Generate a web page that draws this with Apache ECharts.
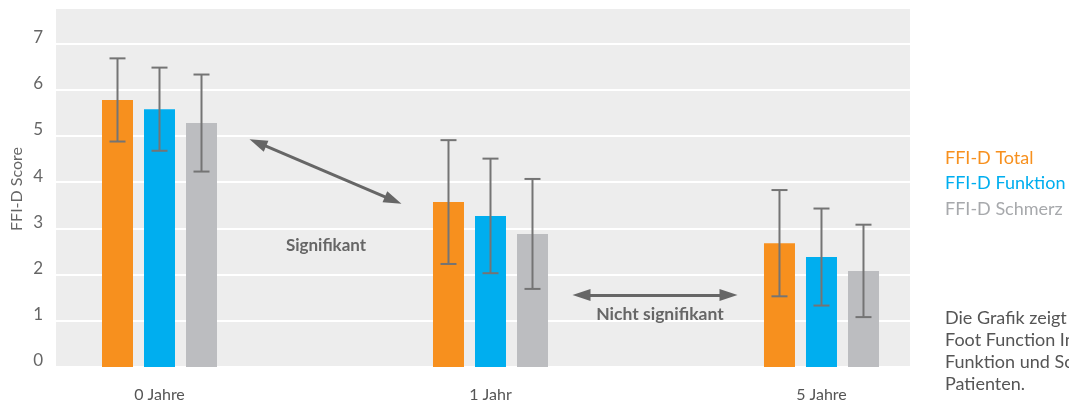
<!DOCTYPE html>
<html>
<head>
<meta charset="utf-8">
<script src="https://cdn.jsdelivr.net/npm/echarts@6/dist/echarts.min.js"></script>
<style>
  html, body { margin: 0; padding: 0; background: #ffffff; }
  #chart { width: 1069px; height: 403px; }
</style>
</head>
<body>
<div id="chart"></div>
<script>
// Follow-up time points (x positions 0, 1, 2 on the value axis)
const categories = ['0 Jahre', '1 Jahr', '5 Jahre'];
const seriesNames = ['FFI-D Total', 'FFI-D Funktion', 'FFI-D Schmerz'];

// Mean scores per time point
const totalMean = [5.78, 3.57, 2.68];
const funktionMean = [5.58, 3.27, 2.38];
const schmerzMean = [5.28, 2.88, 2.08];

// Standard deviations (error bars)
const totalSd = [0.9, 1.34, 1.15];
const funktionSd = [0.9, 1.24, 1.05];
const schmerzSd = [1.05, 1.19, 1.0];

const yTicks = [0, 1, 2, 3, 4, 5, 6, 7];

// Annotation arrows and their captions (axis units)
const sigArrow = [[0.297, 4.855], [0.706, 3.608]];
const nsArrow = [[1.275, 1.558], [1.719, 1.558]];
const sigLabel = { text: 'Signifikant', at: [0.503, 2.64] };
const nsLabel = { text: 'Nicht signifikant', at: [1.512, 1.13] };

const descriptionLines = [
  'Die Grafik zeigt den Verlauf des',
  'Foot Function Index (FFI-D) Total,',
  'Funktion und Schmerz der',
  'Patienten.'
];

const COLORS = ['#F7901E', '#00AEEF', '#BCBDC0'];
const LEGEND_TEXT = ['#F7901E', '#00AEEF', '#A7A9AC'];
const FONT = 'Lato';
const BAR_W = 31;
const BAR_GAP = 11;

const means = [totalMean, funktionMean, schmerzMean];
const sds = [totalSd, funktionSd, schmerzSd];

function errorBarRenderer(offset) {
  return function (params, api) {
    const x = api.value(0);
    const hi = api.coord([x, api.value(2)]);
    const lo = api.coord([x, api.value(1)]);
    const cx = hi[0] + offset;
    const half = 8;
    const style = { stroke: '#747474', lineWidth: 2 };
    return {
      type: 'group',
      children: [
        { type: 'line', shape: { x1: cx, y1: hi[1], x2: cx, y2: lo[1] }, style: style },
        { type: 'line', shape: { x1: cx - half, y1: hi[1], x2: cx + half, y2: hi[1] }, style: style },
        { type: 'line', shape: { x1: cx - half, y1: lo[1], x2: cx + half, y2: lo[1] }, style: style }
      ]
    };
  };
}

const barSeries = seriesNames.map(function (name, i) {
  return {
    name: name,
    type: 'bar',
    barWidth: BAR_W,
    barGap: (BAR_GAP / BAR_W * 100).toFixed(1) + '%',
    itemStyle: { color: COLORS[i] },
    data: means[i].map(function (v, k) { return [k, v]; }),
    z: 2
  };
});

const errorSeries = seriesNames.map(function (name, i) {
  return {
    name: name + ' SD',
    type: 'custom',
    renderItem: errorBarRenderer((i - 1) * (BAR_W + BAR_GAP)),
    data: means[i].map(function (v, k) { return [k, v - sds[i][k], v + sds[i][k]]; }),
    encode: { x: 0, y: [1, 2] },
    silent: true,
    z: 3
  };
});

// Arrows and captions: attached to the middle bar series, whose bars sit
// exactly on the time point, so marker coordinates are not shifted.
barSeries[1].markLine = {
  silent: true,
  symbol: ['triangle', 'triangle'],
  symbolSize: [12, 18],
  lineStyle: { color: '#666666', width: 3, type: 'solid' },
  label: { show: false },
  data: [
    [{ coord: sigArrow[0] }, { coord: sigArrow[1] }],
    [{ coord: nsArrow[0] }, { coord: nsArrow[1] }]
  ]
};
barSeries[1].markPoint = {
  silent: true,
  symbol: 'circle',
  symbolSize: 1,
  itemStyle: { color: 'rgba(0,0,0,0)' },
  label: {
    show: true,
    position: 'inside',
    color: '#666666',
    fontFamily: FONT,
    fontWeight: 'bold',
    fontSize: 17,
    formatter: function (p) { return p.name; }
  },
  data: [
    { name: sigLabel.text, coord: sigLabel.at },
    { name: nsLabel.text, coord: nsLabel.at, label: { fontSize: 17.5 } }
  ]
};

const chart = echarts.init(document.getElementById('chart'), null, { renderer: 'canvas' });

chart.setOption({
  animation: false,
  textStyle: { fontFamily: FONT },
  grid: {
    left: 56, right: 159, top: 8, bottom: 36,
    outerBoundsMode: 'none',
    containLabel: false,
    show: true, backgroundColor: '#EDEDED', borderWidth: 0
  },
  legend: {
    orient: 'vertical',
    left: 940,
    top: 149,
    padding: 0,
    icon: 'none',
    itemWidth: 0,
    itemHeight: 18,
    itemGap: 7.5,
    selectedMode: false,
    textStyle: { fontFamily: FONT, fontSize: 18 },
    data: seriesNames.map(function (n, i) {
      return { name: n, textStyle: { color: LEGEND_TEXT[i] } };
    })
  },
  xAxis: {
    type: 'value',
    min: -0.3127,
    max: 2.2674,
    axisLine: { show: false },
    axisTick: { show: false },
    splitLine: { show: false },
    axisLabel: {
      customValues: [0, 1, 2],
      margin: 20,
      color: '#555555',
      fontFamily: FONT,
      fontSize: 16,
      formatter: function (v) { return categories[Math.round(v)]; }
    }
  },
  yAxis: {
    type: 'value',
    min: 0,
    max: 7.77,
    interval: 1,
    name: 'FFI-D Score',
    nameLocation: 'middle',
    nameGap: 31,
    nameMoveOverlap: false,
    nameTextStyle: { color: '#666666', fontFamily: FONT, fontSize: 16, padding: [0, 3, 0, 0] },
    axisLine: { show: false },
    axisTick: { show: false },
    splitLine: { show: true, lineStyle: { color: '#ffffff', width: 2 } },
    axisLabel: {
      margin: 13,
      color: '#666666',
      fontFamily: FONT,
      fontSize: 17,
      verticalAlign: 'bottom',
      lineHeight: 12,
      formatter: function (v) { return yTicks.indexOf(v) >= 0 ? String(v) : ''; }
    }
  },
  graphic: [{
    type: 'text',
    left: 945,
    top: 307,
    silent: true,
    style: {
      text: descriptionLines.join('\n'),
      fill: '#555555',
      font: '18px ' + FONT,
      lineHeight: 22
    }
  }],
  series: barSeries.concat(errorSeries)
});
</script>
</body>
</html>
